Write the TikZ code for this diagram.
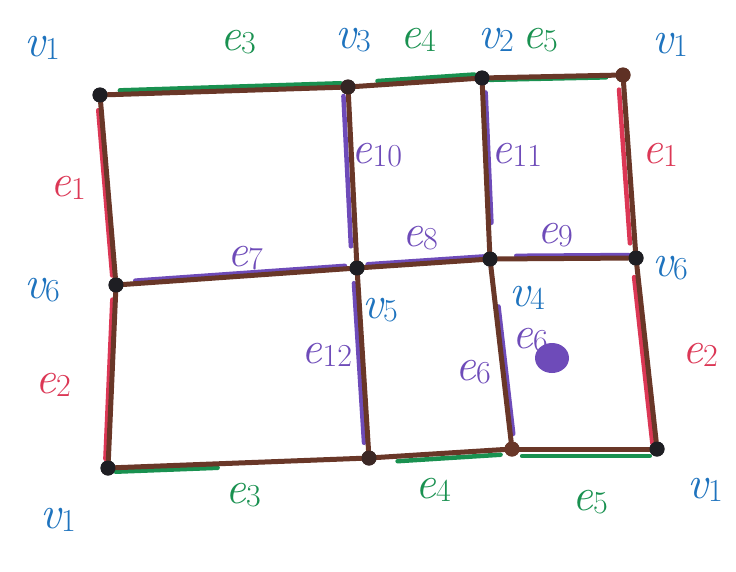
\documentclass[tikz,border=0pt]{standalone}
\usepackage{fontspec}
\usetikzlibrary{calc}
\definecolor{mblue}{RGB}{30,115,190}
\definecolor{mgreen}{RGB}{25,145,80}
\definecolor{mred}{RGB}{220,55,85}
\definecolor{mpurple}{RGB}{110,75,185}
\definecolor{mbrown}{RGB}{105,55,40}
\definecolor{vdark}{RGB}{30,30,35}
\newcommand{\lbl}[2]{{\fontsize{46}{46}\selectfont\itshape #1}\raisebox{-0.28em}{\fontsize{32}{32}\selectfont #2}}
\begin{document}
\begin{tikzpicture}[x=1pt,y=-1pt,
  edge/.style={draw=mbrown,line width=5pt,line cap=round},
  ov/.style={line width=4.5pt,line cap=round},
  vert/.style={circle,inner sep=0pt,minimum size=15pt,fill=vdark},
  lab/.style={inner sep=0pt}]
\useasboundingbox (0,0) rectangle (736,571);
\fill[white] (0,0) rectangle (736,571);
% vertices
\node[vert,fill=vdark] (TL) at (100,95) {};
\node[vert,fill=vdark!70!mbrown] (T1) at (348,87) {};
\node[vert] (T2) at (482,78) {};
\node[vert,fill=mbrown!90!black] (TR) at (623,75) {};
\node[vert] (ML) at (116,285) {};
\node[vert] (M1) at (357,268) {};
\node[vert] (M2) at (490,259) {};
\node[vert] (MR) at (636,258) {};
\node[vert] (BL) at (108,468) {};
\node[vert,fill=vdark!60!mbrown] (B1) at (369,458) {};
\node[vert,fill=mbrown] (B2) at (512,449) {};
\node[vert] (BR) at (657,449) {};
% coloured overlays
\draw[ov,draw=mgreen,transform canvas={yshift=4pt}] ($(TL)!0.08!(T1)$) -- ($(TL)!0.97!(T1)$);
\draw[ov,draw=mgreen,transform canvas={yshift=4pt}] ($(T1)!0.22!(T2)$) -- (T2);
\draw[ov,draw=mgreen,transform canvas={yshift=-2pt}] (T2) -- ($(T2)!0.88!(TR)$);
\draw[ov,draw=mgreen,transform canvas={yshift=-4pt}] (BL) -- ($(BL)!0.42!(B1)$);
\draw[ov,draw=mgreen,transform canvas={yshift=-5pt}] ($(B1)!0.2!(B2)$) -- ($(B1)!0.92!(B2)$);
\draw[ov,draw=mgreen,transform canvas={yshift=-7pt}] ($(B2)!0.07!(BR)$) -- ($(B2)!0.95!(BR)$);
\draw[ov,draw=mred,transform canvas={xshift=-3pt}] ($(TL)!0.08!(ML)$) -- ($(TL)!0.95!(ML)$);
\draw[ov,draw=mred,transform canvas={xshift=-3pt}] ($(ML)!0.08!(BL)$) -- ($(ML)!0.95!(BL)$);
\draw[ov,draw=mred,transform canvas={xshift=-5pt}] ($(TR)!0.08!(MR)$) -- ($(TR)!0.92!(MR)$);
\draw[ov,draw=mred,transform canvas={xshift=-4pt}] ($(MR)!0.1!(BR)$) -- ($(MR)!0.97!(BR)$);
\draw[ov,draw=mpurple,transform canvas={xshift=-5pt}] ($(T1)!0.05!(M1)$) -- ($(T1)!0.88!(M1)$);
\draw[ov,draw=mpurple,transform canvas={xshift=3pt}] ($(T2)!0.08!(M2)$) -- ($(T2)!0.8!(M2)$);
\draw[ov,draw=mpurple,transform canvas={yshift=3pt}] ($(ML)!0.08!(M1)$) -- ($(ML)!0.95!(M1)$);
\draw[ov,draw=mpurple,transform canvas={yshift=3pt}] ($(M1)!0.08!(M2)$) -- ($(M1)!0.95!(M2)$);
\draw[ov,draw=mpurple,transform canvas={yshift=3pt}] ($(M2)!0.18!(MR)$) -- ($(M2)!0.95!(MR)$);
\draw[ov,draw=mpurple,transform canvas={xshift=-4pt}] ($(M1)!0.08!(B1)$) -- ($(M1)!0.92!(B1)$);
\draw[ov,draw=mpurple,transform canvas={xshift=3pt}] ($(M2)!0.25!(B2)$) -- ($(M2)!0.92!(B2)$);
% brown edges
\draw[edge] (TL) -- (T1);
\draw[edge] (T1) -- (T2);
\draw[edge] (T2) -- (TR);
\draw[edge] (ML) -- (M1);
\draw[edge] (M1) -- (M2);
\draw[edge] (M2) -- (MR);
\draw[edge] (BL) -- (B1);
\draw[edge] (B1) -- (B2);
\draw[edge] (B2) -- (BR);
\draw[edge] (TL) -- (ML);
\draw[edge] (ML) -- (BL);
\draw[edge] (T1) -- (M1);
\draw[edge] (M1) -- (B1);
\draw[edge] (T2) -- (M2);
\draw[edge] (M2) -- (B2);
\draw[edge] (TR) -- (MR);
\draw[edge] (MR) -- (BR);
% redraw vertices on top
\foreach \n/\c in {TL/vdark,T1/vdark!70!mbrown,T2/vdark,TR/mbrown!90!black,ML/vdark,M1/vdark,M2/vdark,MR/vdark,BL/vdark,B1/vdark!60!mbrown,B2/mbrown,BR/vdark}
  \fill[\c] (\n) circle (7.5pt);
% labels
\node[lab,text=mblue] (l1) at (42,48) {\lbl{v}{1}};
\node[lab,text=mgreen] (l2) at (238,42) {\lbl{e}{3}};
\node[lab,text=mblue] (l3) at (353,40) {\lbl{v}{3}};
\node[lab,text=mgreen] (l4) at (418,40) {\lbl{e}{4}};
\node[lab,text=mblue] (l5) at (496,40) {\lbl{v}{2}};
\node[lab,text=mgreen] (l6) at (540,40) {\lbl{e}{5}};
\node[lab,text=mblue] (l7) at (670,45) {\lbl{v}{1}};
\node[lab,text=mred] (l8) at (68,188) {\lbl{e}{1}};
\node[lab,text=mpurple] (l9) at (377,155) {\lbl{e}{10}};
\node[lab,text=mpurple] (l10) at (517,155) {\lbl{e}{11}};
\node[lab,text=mred] (l11) at (660,155) {\lbl{e}{1}};
\node[lab,text=mpurple] (l12) at (245,258) {\lbl{e}{7}};
\node[lab,text=mpurple] (l13) at (420,238) {\lbl{e}{8}};
\node[lab,text=mpurple] (l14) at (555,235) {\lbl{e}{9}};
\node[lab,text=mblue] (l15) at (42,290) {\lbl{v}{6}};
\node[lab,text=mblue] (l16) at (670,268) {\lbl{v}{6}};
\node[lab,text=mblue] (l17) at (380,310) {\lbl{v}{5}};
\node[lab,text=mblue] (l18) at (527,298) {\lbl{v}{4}};
\node[lab,text=mpurple] (l19) at (327,355) {\lbl{e}{12}};
\node[lab,text=mpurple] (l20) at (473,372) {\lbl{e}{6}};
\node[lab,text=mred] (l21) at (53,385) {\lbl{e}{2}};
\node[lab,text=mred] (l22) at (700,355) {\lbl{e}{2}};
\node[lab,text=mblue] (l23) at (58,520) {\lbl{v}{1}};
\node[lab,text=mgreen] (l24) at (243,495) {\lbl{e}{3}};
\node[lab,text=mgreen] (l25) at (433,490) {\lbl{e}{4}};
\node[lab,text=mgreen] (l26) at (590,502) {\lbl{e}{5}};
\node[lab,text=mblue] (l27) at (705,490) {\lbl{v}{1}};
% scribbled-out label
\node[lab,text=mpurple] (l28) at (530,340) {\lbl{e}{6}};
\fill[mpurple] (552,358) ellipse (17pt and 15pt);
\end{tikzpicture}
\end{document}
